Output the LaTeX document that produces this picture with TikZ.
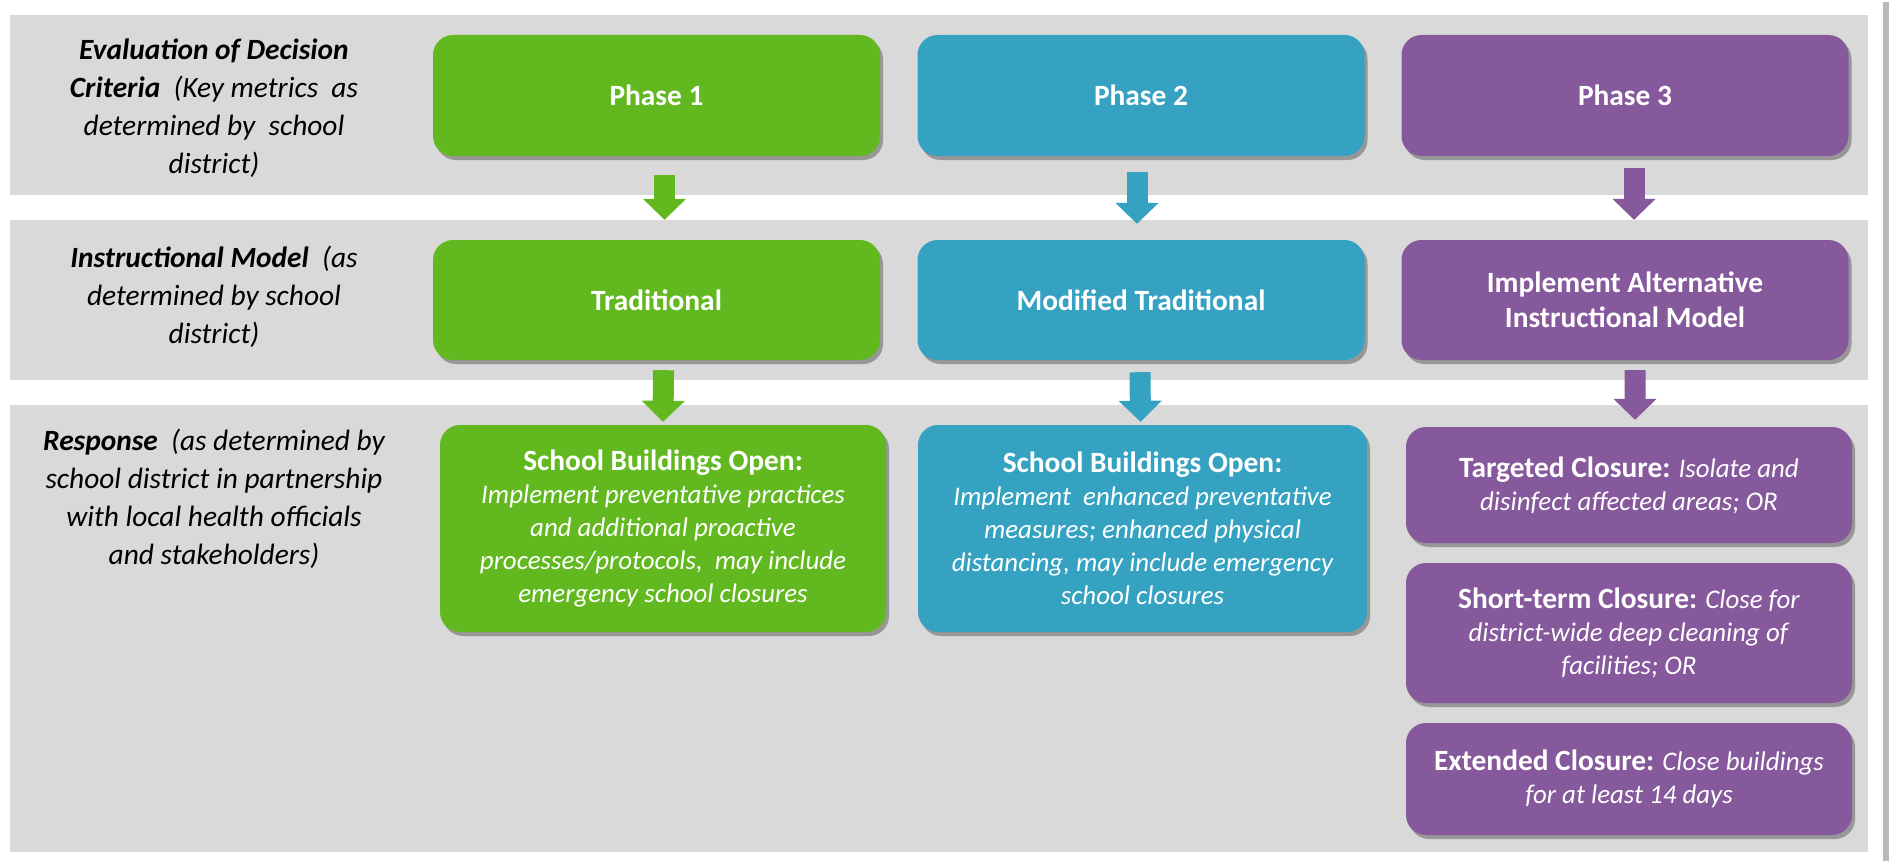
\documentclass[tikz,border=0pt]{standalone}
\usepackage{fontspec}
\setmainfont{Carlito}
\usetikzlibrary{arrows.meta,shadows}
\definecolor{cgreen}{HTML}{62B91F}
\definecolor{cblue}{HTML}{35A2C2}
\definecolor{cpurple}{HTML}{85599C}
\definecolor{cband}{HTML}{D9D9D9}
\newcommand{\hd}[1]{{\bfseries\fontsize{29.5}{33}\selectfont #1}}
\begin{document}
\begin{tikzpicture}[x=1bp,y=-1bp,
  box/.style={rounded corners=20bp, draw=none, text=white, align=center,
    inner sep=0pt, font=\fontsize{27}{33}\selectfont,
    drop shadow={shadow xshift=3bp, shadow yshift=-4bp, opacity=0.3, fill=black}},
  phbox/.style={box, minimum width=447bp, minimum height=121bp, font=\bfseries\fontsize{29.5}{35}\selectfont},
  lbl/.style={align=center, inner sep=0pt, font=\itshape\fontsize{29.5}{38}\selectfont},
  arr/.style={line width=21bp, -{Triangle[width=42bp,length=21bp]}},
  band/.style={fill=cband, draw=none}]
\useasboundingbox (0,0) rectangle (1889,861);
\fill[white] (0,0) rectangle (1889,861);
% bands
\path[band] (10,15) rectangle (1868,195);
\path[band] (10,220) rectangle (1868,380);
\path[band] (10,405) rectangle (1868,852);
\fill[gray!55] (1883,2) rectangle (1889,861);
% left labels
\node[lbl] (l1) at (214,108) {\textbf{Evaluation of Decision}\\\textbf{Criteria}\ \ (Key metrics\ \ as\\determined by\ \ school\\district)};
\node[lbl] (l2) at (214,297) {\textbf{Instructional Model}\ \ (as\\determined by school\\district)};
\node[lbl] (l3) at (214,499) {\textbf{Response}\ \ (as determined by\\school district in partnership\\with local health officials\\and stakeholders)};
% row 1
\node[phbox, fill=cgreen] (p1) at (656.5,95.5) {Phase 1};
\node[phbox, fill=cblue] (p2) at (1141,95.5) {Phase 2};
\node[phbox, fill=cpurple] (p3) at (1625,95.5) {Phase 3};
% row 2
\node[phbox, fill=cgreen, minimum height=120bp] (m1) at (656.5,300) {Traditional};
\node[phbox, fill=cblue, minimum height=120bp] (m2) at (1141,300) {Modified Traditional};
\node[phbox, fill=cpurple, minimum height=120bp] (m3) at (1625,300) {Implement Alternative\\Instructional Model};
% row 3
\node[box, fill=cgreen, minimum width=446bp, minimum height=207bp] (r1) at (663,528.5)
  {\hd{School Buildings Open:}\\\itshape Implement preventative practices\\\itshape and additional proactive\\\itshape processes/protocols,\ \ may include\\\itshape emergency school closures};
\node[box, fill=cblue, minimum width=449bp, minimum height=207bp] (r2) at (1142.5,528.5)
  {\hd{School Buildings Open:}\\\itshape Implement\ \ enhanced preventative\\\itshape measures; enhanced physical\\\itshape distancing, may include emergency\\\itshape school closures};
\node[box, fill=cpurple, minimum width=446bp, minimum height=116bp] (r3a) at (1629,485)
  {\hd{Targeted Closure:} \textit{Isolate and}\\\textit{disinfect affected areas; OR}};
\node[box, fill=cpurple, minimum width=446bp, minimum height=140bp] (r3b) at (1629,633)
  {\hd{Short-term Closure:} \textit{Close for}\\\textit{district-wide deep cleaning of}\\\textit{facilities; OR}};
\node[box, fill=cpurple, minimum width=446bp, minimum height=112bp] (r3c) at (1629,779)
  {\hd{Extended Closure:} \textit{Close buildings}\\\textit{for at least 14 days}};
% arrows
\draw[arr, cgreen] ([xshift=8bp,yshift=-19bp]p1.south) -- ([xshift=8bp,yshift=20bp]m1.north);
\draw[arr, cblue] ([xshift=-4bp,yshift=-16bp]p2.south) -- ([xshift=-4bp,yshift=16bp]m2.north);
\draw[arr, cpurple] ([xshift=9bp,yshift=-12bp]p3.south) -- ([xshift=9bp,yshift=20bp]m3.north);
\draw[arr, cgreen] ([xshift=7bp,yshift=-10bp]m1.south) -- ([yshift=3bp]r1.north);
\draw[arr, cblue] ([xshift=-1bp,yshift=-12bp]m2.south) -- ([xshift=-2bp,yshift=3bp]r2.north);
\draw[arr, cpurple] ([xshift=10bp,yshift=-10bp]m3.south) -- ([xshift=6bp,yshift=7bp]r3a.north);
\end{tikzpicture}
\end{document}
